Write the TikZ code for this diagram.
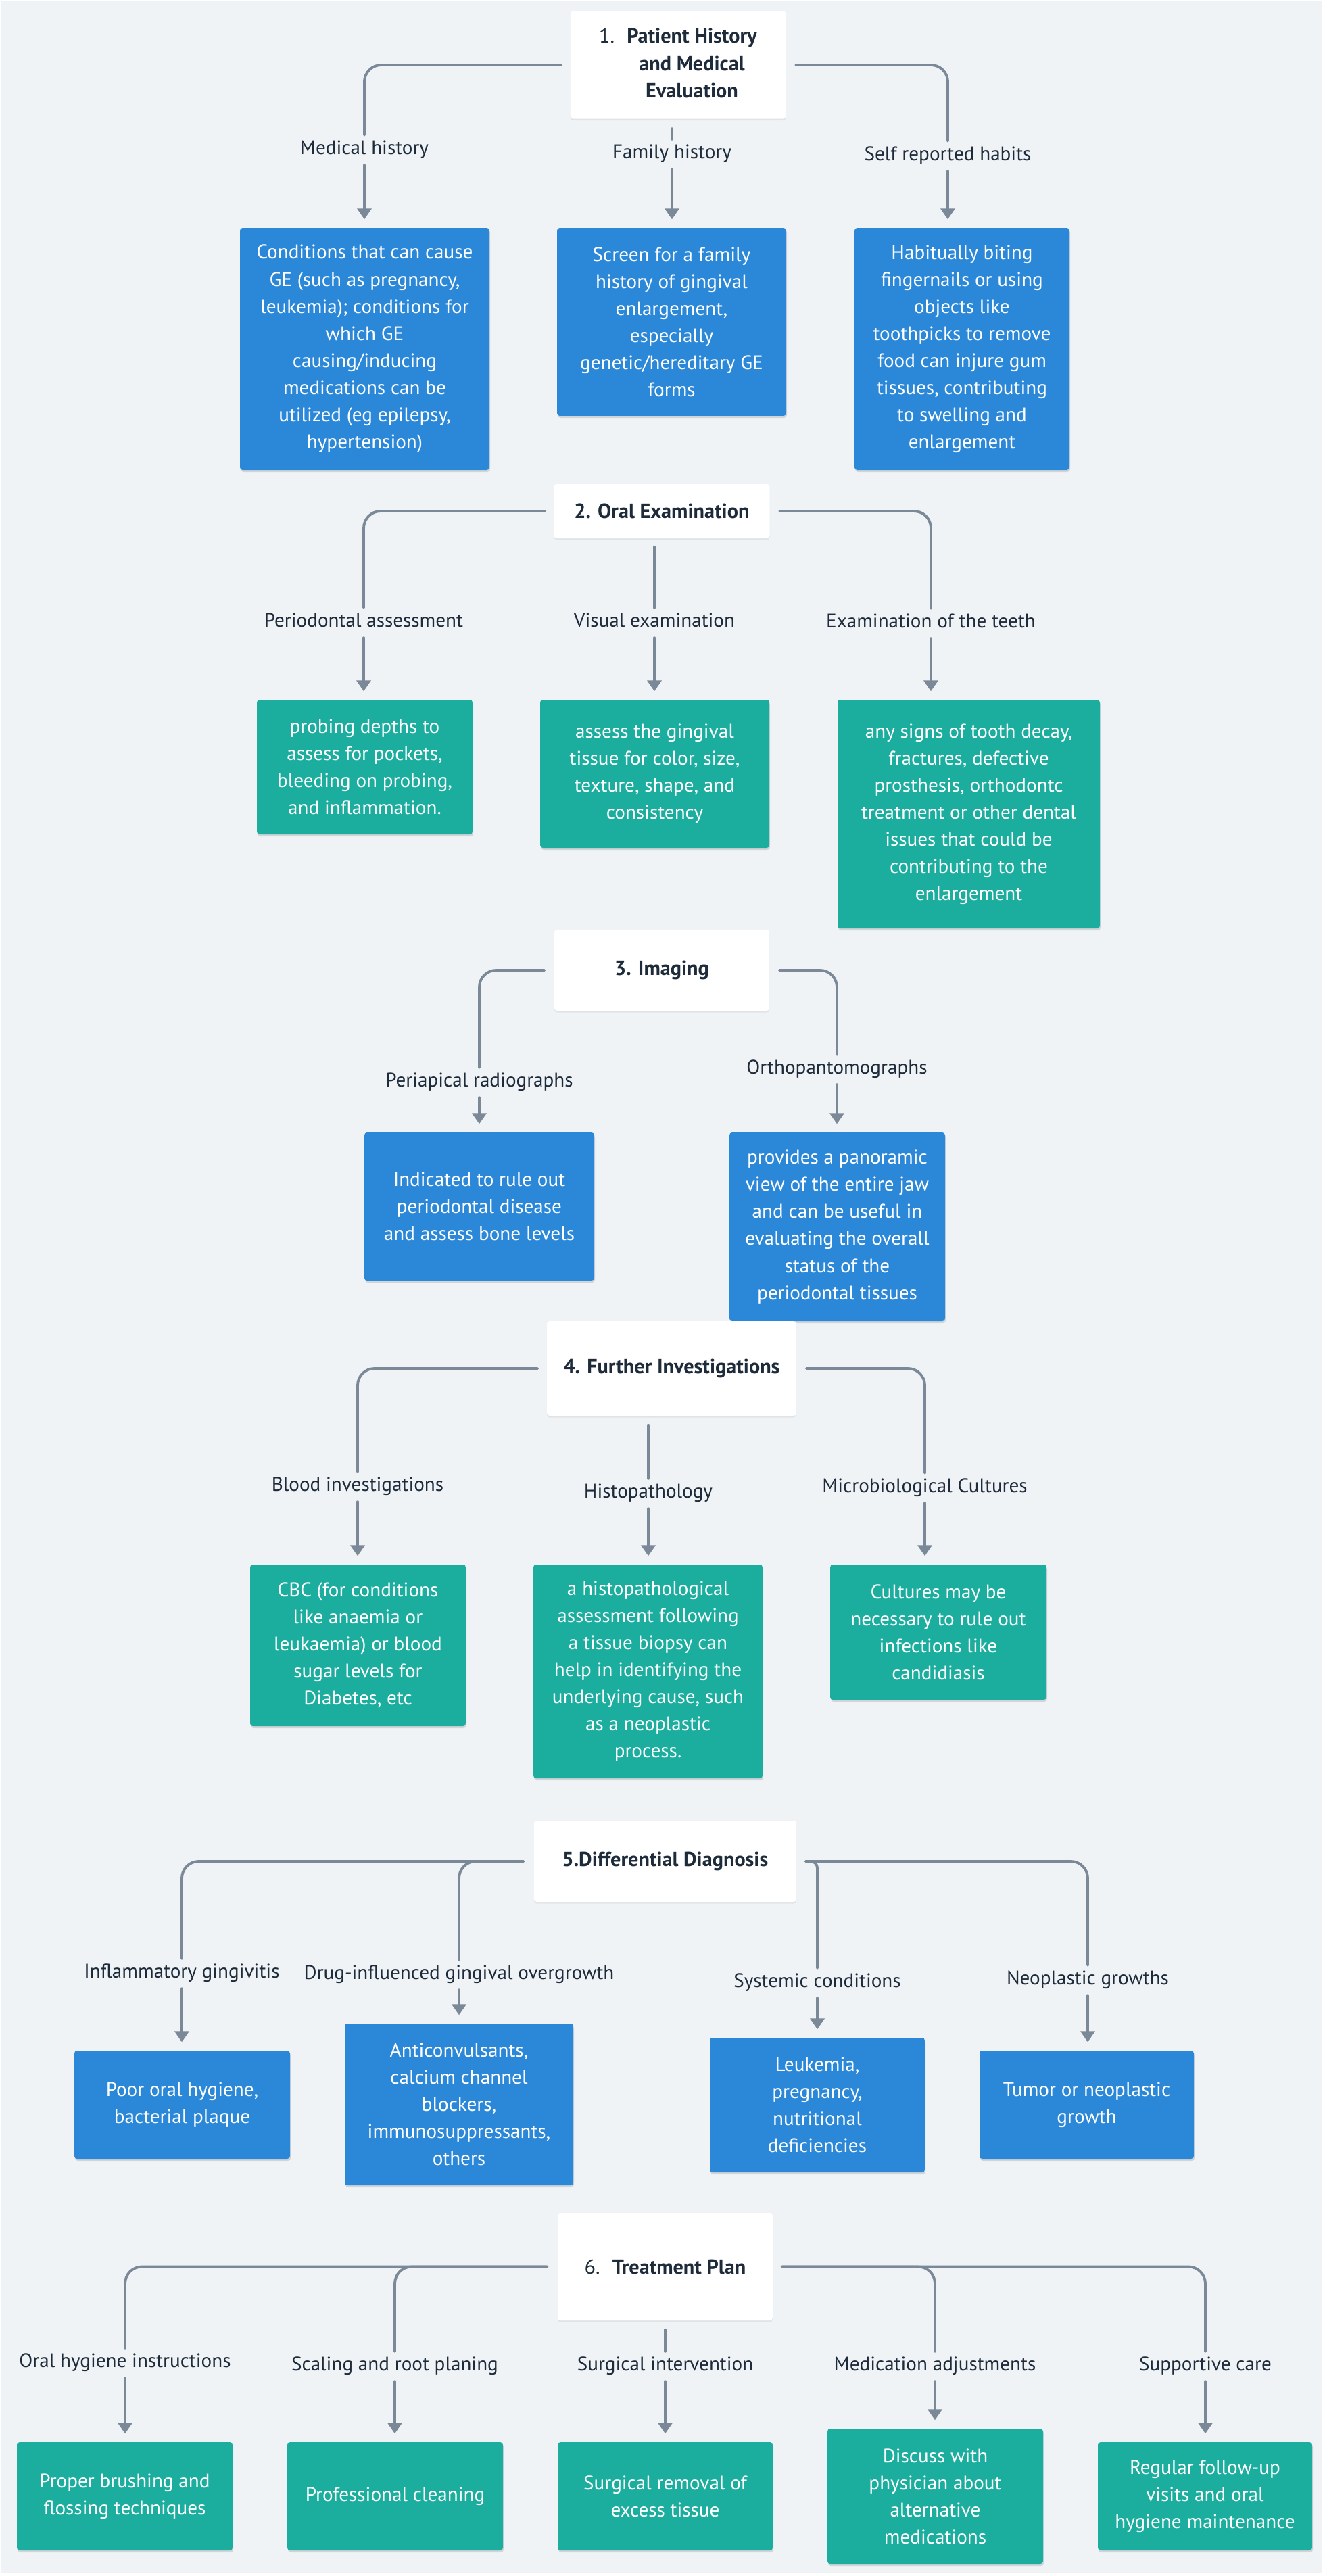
\documentclass[tikz,border=0pt]{standalone}
\usepackage{fontspec}
\setmainfont{PT Sans}
\usetikzlibrary{arrows.meta,shadows}

\definecolor{bgcol}{HTML}{EFF3F6}
\definecolor{linecol}{HTML}{7A8897}
\definecolor{boxblue}{HTML}{2B88D9}
\definecolor{boxteal}{HTML}{1BAE9F}
\definecolor{inkcol}{HTML}{1E2B3A}

\begin{document}
\begin{tikzpicture}[
    font=\fontsize{8.3}{11.4}\selectfont,
    head/.style={rectangle, fill=white, rounded corners=0.04cm, text=inkcol, align=center, inner sep=0pt,
        font=\fontsize{8.6}{11.6}\selectfont,
        drop shadow={shadow xshift=0cm, shadow yshift=-0.025cm, opacity=0.06, fill=black}},
    bluebox/.style={rectangle, fill=boxblue, text=white, align=center, rounded corners=0.04cm, inner sep=0pt,
        drop shadow={shadow xshift=0.01cm, shadow yshift=-0.03cm, opacity=0.12, fill=black}},
    tealbox/.style={bluebox, fill=boxteal},
    lbl/.style={text=inkcol, inner sep=0.1cm, text height=0.18cm, text depth=0.05cm},
    wire/.style={draw=linecol, line width=1.1pt, line cap=round, rounded corners=0.25cm},
    pointer/.style={wire, -{Triangle[width=0.21cm,length=0.16cm]}, shorten >=0.12cm}
]
\useasboundingbox (0,0) rectangle (19.6,-38.1);
\fill[bgcol] (0.02,-0.02) rectangle (19.55,-38.05);

% 1. Patient history
\node[head, minimum width=3.19cm, minimum height=1.59cm] (t1) at (10.03,-0.96)
    {\begin{tabular}{@{}l@{\hspace{0.6em}}c@{}}1. & \textbf{Patient History}\\ & \textbf{and Medical}\\ & \textbf{Evaluation}\end{tabular}};
\node[lbl] (l11) at (5.39,-2.22) {Medical history};
\node[lbl] (l12) at (9.94,-2.28) {Family history};
\node[lbl] (l13) at (14.02,-2.31) {Self reported habits};
\node[bluebox, minimum width=3.69cm, minimum height=3.58cm] (b11) at (5.395,-5.16)
    {Conditions that can cause\\GE (such as pregnancy,\\leukemia); conditions for\\which GE\\causing/inducing\\medications can be\\utilized (eg epilepsy,\\hypertension)};
\node[bluebox, minimum width=3.39cm, minimum height=2.78cm] (b12) at (9.935,-4.76)
    {Screen for a family\\history of gingival\\enlargement,\\especially\\genetic/hereditary GE\\forms};
\node[bluebox, minimum width=3.18cm, minimum height=3.58cm] (b13) at (14.23,-5.16)
    {Habitually biting\\fingernails or using\\objects like\\toothpicks to remove\\food can injure gum\\tissues, contributing\\to swelling and\\enlargement};

\draw[wire, shorten <=0.13cm] (t1.west) -| (l11.north);
\draw[wire, shorten <=0.14cm] (l12.north |- t1.south) -- (l12.north);
\draw[wire, shorten <=0.14cm] (t1.east) -| (l13.north);
\draw[pointer] (l11.south) -- (l11.south |- b11.north);
\draw[pointer] (l12.south) -- (l12.south |- b12.north);
\draw[pointer] (l13.south) -- (l13.south |- b13.north);

% 2. Oral examination
\node[head, minimum width=3.19cm, minimum height=0.80cm] (t2) at (9.79,-7.56) {\textbf{2. Oral Examination}};
\node[lbl] (l21) at (5.38,-9.21) {Periodontal assessment};
\node[lbl] (l22) at (9.68,-9.21) {Visual examination};
\node[lbl] (l23) at (13.77,-9.22) {Examination of the teeth};
\node[tealbox, minimum width=3.19cm, minimum height=1.99cm] (b21) at (5.395,-11.345)
    {probing depths to\\assess for pockets,\\bleeding on probing,\\and inflammation.};
\node[tealbox, minimum width=3.39cm, minimum height=2.19cm] (b22) at (9.685,-11.445)
    {assess the gingival\\tissue for color, size,\\texture, shape, and\\consistency};
\node[tealbox, minimum width=3.88cm, minimum height=3.38cm] (b23) at (14.33,-12.04)
    {any signs of tooth decay,\\fractures, defective\\prosthesis, orthodontc\\treatment or other dental\\issues that could be\\contributing to the\\enlargement};

\draw[wire, shorten <=0.13cm] (t2.west) -| (l21.north);
\draw[wire, shorten <=0.12cm] (l22.north |- t2.south) -- (l22.north);
\draw[wire, shorten <=0.14cm] (t2.east) -| (l23.north);
\draw[pointer] (l21.south) -- (l21.south |- b21.north);
\draw[pointer] (l22.south) -- (l22.south |- b22.north);
\draw[pointer] (l23.south) -- (l23.south |- b23.north);

% 3. Imaging
\node[head, minimum width=3.18cm, minimum height=1.20cm] (t3) at (9.79,-14.35) {\textbf{3. Imaging}};
\node[lbl] (l31) at (7.09,-16.01) {Periapical radiographs};
\node[lbl] (l32) at (12.38,-15.82) {Orthopantomographs};
\node[bluebox, minimum width=3.40cm, minimum height=2.19cm] (b31) at (7.09,-17.845)
    {Indicated to rule out\\periodontal disease\\and assess bone levels};
\node[bluebox, minimum width=3.19cm, minimum height=2.79cm] (b32) at (12.385,-18.145)
    {provides a panoramic\\view of the entire jaw\\and can be useful in\\evaluating the overall\\status of the\\periodontal tissues};

\draw[wire, shorten <=0.14cm] (t3.west) -| (l31.north);
\draw[wire, shorten <=0.14cm] (t3.east) -| (l32.north);
\draw[pointer] (l31.south) -- (l31.south |- b31.north);
\draw[pointer] (l32.south) -- (l32.south |- b32.north);

% 4. Further investigations
\node[head, minimum width=3.69cm, minimum height=1.40cm] (t4) at (9.935,-20.24) {\textbf{4. Further Investigations}};
\node[lbl] (l41) at (5.29,-21.99) {Blood investigations};
\node[lbl] (l42) at (9.59,-22.09) {Histopathology};
\node[lbl] (l43) at (13.68,-22.01) {Microbiological Cultures};
\node[tealbox, minimum width=3.19cm, minimum height=2.39cm] (b41) at (5.295,-24.335)
    {CBC (for conditions\\like anaemia or\\leukaemia) or blood\\sugar levels for\\Diabetes, etc};
\node[tealbox, minimum width=3.39cm, minimum height=3.16cm] (b42) at (9.585,-24.72)
    {a histopathological\\assessment following\\a tissue biopsy can\\help in identifying the\\underlying cause, such\\as a neoplastic\\process.};
\node[tealbox, minimum width=3.20cm, minimum height=2.00cm] (b43) at (13.88,-24.14)
    {Cultures may be\\necessary to rule out\\infections like\\candidiasis};

\draw[wire, shorten <=0.13cm] (t4.west) -| (l41.north);
\draw[wire, shorten <=0.13cm] (l42.north |- t4.south) -- (l42.north);
\draw[wire, shorten <=0.14cm] (t4.east) -| (l43.north);
\draw[pointer] (l41.south) -- (l41.south |- b41.north);
\draw[pointer] (l42.south) -- (l42.south |- b42.north);
\draw[pointer] (l43.south) -- (l43.south |- b43.north);

% 5. Differential diagnosis
\node[head, minimum width=3.88cm, minimum height=1.20cm] (t5) at (9.84,-27.53) {\textbf{5.Differential Diagnosis}};
\node[lbl] (l51) at (2.69,-29.19) {Inflammatory gingivitis};
\node[lbl] (l52) at (6.79,-29.21) {Drug-influenced gingival overgrowth};
\node[lbl] (l53) at (12.09,-29.33) {Systemic conditions};
\node[lbl] (l54) at (16.09,-29.29) {Neoplastic growths};
\node[bluebox, minimum width=3.19cm, minimum height=1.60cm] (b51) at (2.695,-31.13)
    {Poor oral hygiene,\\bacterial plaque};
\node[bluebox, minimum width=3.38cm, minimum height=2.39cm] (b52) at (6.79,-31.125)
    {Anticonvulsants,\\calcium channel\\blockers,\\immunosuppressants,\\others};
\node[bluebox, minimum width=3.18cm, minimum height=1.99cm] (b53) at (12.09,-31.135)
    {Leukemia,\\pregnancy,\\nutritional\\deficiencies};
\node[bluebox, minimum width=3.17cm, minimum height=1.60cm] (b54) at (16.075,-31.13)
    {Tumor or neoplastic\\growth};

\draw[wire, shorten <=0.15cm] (t5.west) -| (l51.north);
\draw[wire, shorten <=0.15cm] (t5.west) -| (l52.north);
\draw[wire, shorten <=0.13cm, rounded corners=0.1cm] (t5.east) -| (l53.north);
\draw[wire, shorten <=0.13cm] (t5.east) -| (l54.north);
\draw[pointer] (l51.south) -- (l51.south |- b51.north);
\draw[pointer] (l52.south) -- (l52.south |- b52.north);
\draw[pointer] (l53.south) -- (l53.south |- b53.north);
\draw[pointer] (l54.south) -- (l54.south |- b54.north);

% 6. Treatment plan
\node[head, minimum width=3.18cm, minimum height=1.59cm] (t6) at (9.84,-33.525) {6.\hspace{0.6em}\textbf{Treatment Plan}};
\node[lbl] (l61) at (1.85,-34.95) {Oral hygiene instructions};
\node[lbl] (l62) at (5.84,-35.00) {Scaling and root planing};
\node[lbl] (l63) at (9.84,-35.00) {Surgical intervention};
\node[lbl] (l64) at (13.83,-35.00) {Medication adjustments};
\node[lbl] (l65) at (17.83,-35.00) {Supportive care};
\node[tealbox, minimum width=3.19cm, minimum height=1.60cm] (b61) at (1.845,-36.92)
    {Proper brushing and\\flossing techniques};
\node[tealbox, minimum width=3.19cm, minimum height=1.60cm] (b62) at (5.845,-36.92)
    {Professional cleaning};
\node[tealbox, minimum width=3.18cm, minimum height=1.60cm] (b63) at (9.84,-36.92)
    {Surgical removal of\\excess tissue};
\node[tealbox, minimum width=3.19cm, minimum height=2.00cm] (b64) at (13.835,-36.92)
    {Discuss with\\physician about\\alternative\\medications};
\node[tealbox, minimum width=3.17cm, minimum height=1.60cm] (b65) at (17.825,-36.92)
    {Regular follow-up\\visits and oral\\hygiene maintenance};

\draw[wire, shorten <=0.15cm] (t6.west) -| (l61.north);
\draw[wire, shorten <=0.15cm] (t6.west) -| (l62.north);
\draw[wire, shorten <=0.13cm] (l63.north |- t6.south) -- (l63.north);
\draw[wire, shorten <=0.13cm] (t6.east) -| (l64.north);
\draw[wire, shorten <=0.13cm] (t6.east) -| (l65.north);
\draw[pointer] (l61.south) -- (l61.south |- b61.north);
\draw[pointer] (l62.south) -- (l62.south |- b62.north);
\draw[pointer] (l63.south) -- (l63.south |- b63.north);
\draw[pointer] (l64.south) -- (l64.south |- b64.north);
\draw[pointer] (l65.south) -- (l65.south |- b65.north);

\end{tikzpicture}
\end{document}
